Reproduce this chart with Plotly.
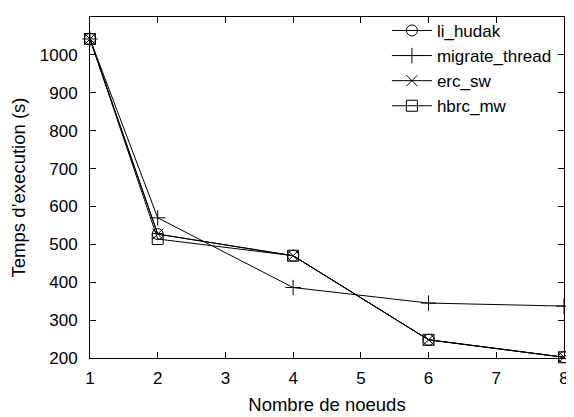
import plotly.graph_objects as go

nodes = [1, 2, 4, 6, 8]
li_hudak = [1042, 527, 470, 248, 202]
migrate_thread = [1042, 570, 386, 345, 337]
erc_sw = [1042, 527, 470, 248, 202]
hbrc_mw = [1042, 514, 470, 248, 202]

series = [
    ("li_hudak", li_hudak, "circle-open"),
    ("migrate_thread", migrate_thread, "cross-thin-open"),
    ("erc_sw", erc_sw, "x-thin-open"),
    ("hbrc_mw", hbrc_mw, "square-open"),
]

fig = go.Figure()
for name, ys, sym in series:
    fig.add_trace(go.Scatter(
        x=nodes, y=ys, name=name, mode="lines+markers",
        line=dict(color="black", width=1),
        marker=dict(symbol=sym, size=11, color="black",
                    line=dict(color="black", width=1)),
        cliponaxis=False,
    ))

fam = "Liberation Sans, Arial, sans-serif"
font = dict(family=fam, size=17, color="black")
title_font = dict(family=fam, size=18.5, color="black")
axis_common = dict(
    showline=True, linecolor="black", linewidth=1, mirror="allticks",
    ticks="inside", ticklen=6, tickcolor="black", tickwidth=1,
    showgrid=False, zeroline=False, tickfont=font,
)
fig.update_layout(
    width=566, height=409,
    margin=dict(l=82, r=5, t=5, b=59),
    paper_bgcolor="white", plot_bgcolor="white",
    font=font,
    xaxis=dict(range=[1, 8], tickvals=[1, 2, 3, 4, 5, 6, 7, 8],
               title=dict(text="Nombre de noeuds", font=title_font, standoff=10),
               ticklabelstandoff=5, **axis_common),
    yaxis=dict(range=[200, 1100], tickvals=list(range(200, 1101, 100)),
               title=dict(text="Temps d’execution (s)", font=title_font, standoff=12),
               ticklabelstandoff=8, **axis_common),
    legend=dict(x=0.985, y=1.012, xanchor="right", yanchor="top",
                bgcolor="rgba(0,0,0,0)", font=dict(family=fam, size=17, color="black"),
                tracegroupgap=0, itemwidth=40),
    showlegend=True,
)

fig.write_html("out.html")
